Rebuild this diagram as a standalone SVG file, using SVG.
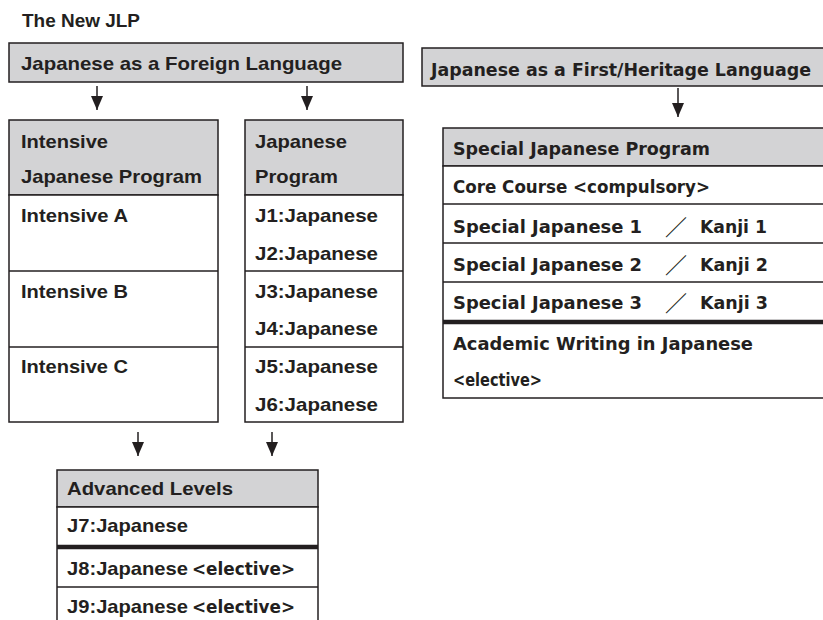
<svg xmlns="http://www.w3.org/2000/svg" width="823" height="620" viewBox="0 0 823 620">
<defs>
<style>
.bx{fill:#ffffff;stroke:#231f20;stroke-width:1.5}
.hd{fill:#d3d3d5;stroke:#231f20;stroke-width:1.5}
.ln{stroke:#231f20;stroke-width:1.5}
.thick{stroke:#231f20;stroke-width:4.5}
.a{font-family:"Liberation Sans",Arial,sans-serif;font-weight:bold;font-size:18.5px;fill:#231f20}
.c{font-family:"DejaVu Sans","Noto Sans",sans-serif;font-weight:bold;font-size:18px;fill:#231f20}
.sl{font-family:"Noto Sans CJK JP","DejaVu Sans",sans-serif;font-weight:normal;font-size:22px;fill:#231f20}
.con{stroke:#231f20;stroke-width:1.5;fill:none;marker-end:url(#ah)}
</style>
<marker id="ah" markerUnits="userSpaceOnUse" viewBox="0 0 14 12" markerWidth="14" markerHeight="12" refX="14" refY="6" orient="auto">
<path d="M0,0 L14,6 L0,12 z" fill="#231f20"/>
</marker>
</defs>
<rect width="823" height="620" fill="#ffffff"/>

<g id="title">
<text class="a" x="22" y="27" font-size="17" textLength="118" lengthAdjust="spacingAndGlyphs">The New JLP</text>
</g>

<g id="jfl">
<rect class="hd" x="9" y="43" width="394" height="39"/>
<text class="a" x="21" y="70" textLength="321" lengthAdjust="spacingAndGlyphs">Japanese as a Foreign Language</text>
</g>

<g id="intensive">
<rect class="hd" x="9" y="120" width="209" height="75"/>
<rect class="bx" x="9" y="195" width="209" height="227"/>
<line class="ln" x1="9" y1="271" x2="218" y2="271"/>
<line class="ln" x1="9" y1="347" x2="218" y2="347"/>
<text class="a" x="21" y="148" textLength="87" lengthAdjust="spacingAndGlyphs">Intensive</text>
<text class="a" x="21" y="183" textLength="181" lengthAdjust="spacingAndGlyphs">Japanese Program</text>
<text class="a" x="21" y="222" textLength="107" lengthAdjust="spacingAndGlyphs">Intensive A</text>
<text class="a" x="21" y="298" textLength="107" lengthAdjust="spacingAndGlyphs">Intensive B</text>
<text class="a" x="21" y="373" textLength="107" lengthAdjust="spacingAndGlyphs">Intensive C</text>
</g>

<g id="jprogram">
<rect class="hd" x="245" y="120" width="158" height="75"/>
<rect class="bx" x="245" y="195" width="158" height="227"/>
<line class="ln" x1="245" y1="271" x2="403" y2="271"/>
<line class="ln" x1="245" y1="347" x2="403" y2="347"/>
<text class="a" x="255" y="148" textLength="92" lengthAdjust="spacingAndGlyphs">Japanese</text>
<text class="a" x="255" y="183" textLength="83" lengthAdjust="spacingAndGlyphs">Program</text>
<text class="a" x="255" y="222" textLength="123" lengthAdjust="spacingAndGlyphs">J1:Japanese</text>
<text class="a" x="255" y="260" textLength="123" lengthAdjust="spacingAndGlyphs">J2:Japanese</text>
<text class="a" x="255" y="298" textLength="123" lengthAdjust="spacingAndGlyphs">J3:Japanese</text>
<text class="a" x="255" y="335" textLength="123" lengthAdjust="spacingAndGlyphs">J4:Japanese</text>
<text class="a" x="255" y="373" textLength="123" lengthAdjust="spacingAndGlyphs">J5:Japanese</text>
<text class="a" x="255" y="411" textLength="123" lengthAdjust="spacingAndGlyphs">J6:Japanese</text>
</g>

<g id="advanced">
<rect class="hd" x="57" y="470" width="261" height="37"/>
<rect class="bx" x="57" y="507" width="261" height="120"/>
<line class="thick" x1="57" y1="547" x2="318" y2="547"/>
<line class="ln" x1="57" y1="587" x2="318" y2="587"/>
<text class="a" x="67" y="495" textLength="166" lengthAdjust="spacingAndGlyphs">Advanced Levels</text>
<text class="a" x="67" y="532" textLength="121" lengthAdjust="spacingAndGlyphs">J7:Japanese</text>
<text class="a" x="67" y="575" textLength="121" lengthAdjust="spacingAndGlyphs">J8:Japanese</text>
<text class="c" x="192" y="575" textLength="103" lengthAdjust="spacingAndGlyphs">&lt;elective&gt;</text>
<text class="a" x="67" y="613" textLength="121" lengthAdjust="spacingAndGlyphs">J9:Japanese</text>
<text class="c" x="192" y="613" textLength="103" lengthAdjust="spacingAndGlyphs">&lt;elective&gt;</text>
</g>

<g id="jfhl">
<rect class="hd" x="422" y="48" width="410" height="38"/>
<text class="c" x="431" y="76" font-size="18.5" textLength="380" lengthAdjust="spacingAndGlyphs">Japanese as a First/Heritage Language</text>
</g>

<g id="special">
<rect class="hd" x="443" y="128" width="390" height="38"/>
<rect class="bx" x="443" y="166" width="390" height="232"/>
<line class="ln" x1="443" y1="204" x2="833" y2="204"/>
<line class="ln" x1="443" y1="243" x2="833" y2="243"/>
<line class="ln" x1="443" y1="282" x2="833" y2="282"/>
<line class="thick" x1="443" y1="322" x2="833" y2="322"/>
<text class="c" x="453" y="155" textLength="257" lengthAdjust="spacingAndGlyphs">Special Japanese Program</text>
<text class="c" x="453" y="193" textLength="257" lengthAdjust="spacingAndGlyphs">Core Course &lt;compulsory&gt;</text>
<text class="c" x="453" y="233" textLength="189" lengthAdjust="spacingAndGlyphs">Special Japanese 1</text>
<text class="sl" x="665" y="235">／</text>
<text class="c" x="700" y="233" textLength="67" lengthAdjust="spacingAndGlyphs">Kanji 1</text>
<text class="c" x="453" y="271" textLength="189" lengthAdjust="spacingAndGlyphs">Special Japanese 2</text>
<text class="sl" x="665" y="273">／</text>
<text class="c" x="700" y="271" textLength="68" lengthAdjust="spacingAndGlyphs">Kanji 2</text>
<text class="c" x="453" y="309" textLength="189" lengthAdjust="spacingAndGlyphs">Special Japanese 3</text>
<text class="sl" x="665" y="311">／</text>
<text class="c" x="700" y="309" textLength="68" lengthAdjust="spacingAndGlyphs">Kanji 3</text>
<text class="c" x="453" y="350" textLength="300" lengthAdjust="spacingAndGlyphs">Academic Writing in Japanese</text>
<text class="c" x="453" y="386" font-size="15.5" textLength="89" lengthAdjust="spacingAndGlyphs">&lt;elective&gt;</text>
</g>

<g id="connectors">
<line class="con" x1="97" y1="86" x2="97" y2="110"/>
<line class="con" x1="307" y1="86" x2="307" y2="110"/>
<line class="con" x1="678" y1="88" x2="678" y2="117"/>
<line class="con" x1="138" y1="432" x2="138" y2="456"/>
<line class="con" x1="272" y1="432" x2="272" y2="456"/>
</g>
</svg>
